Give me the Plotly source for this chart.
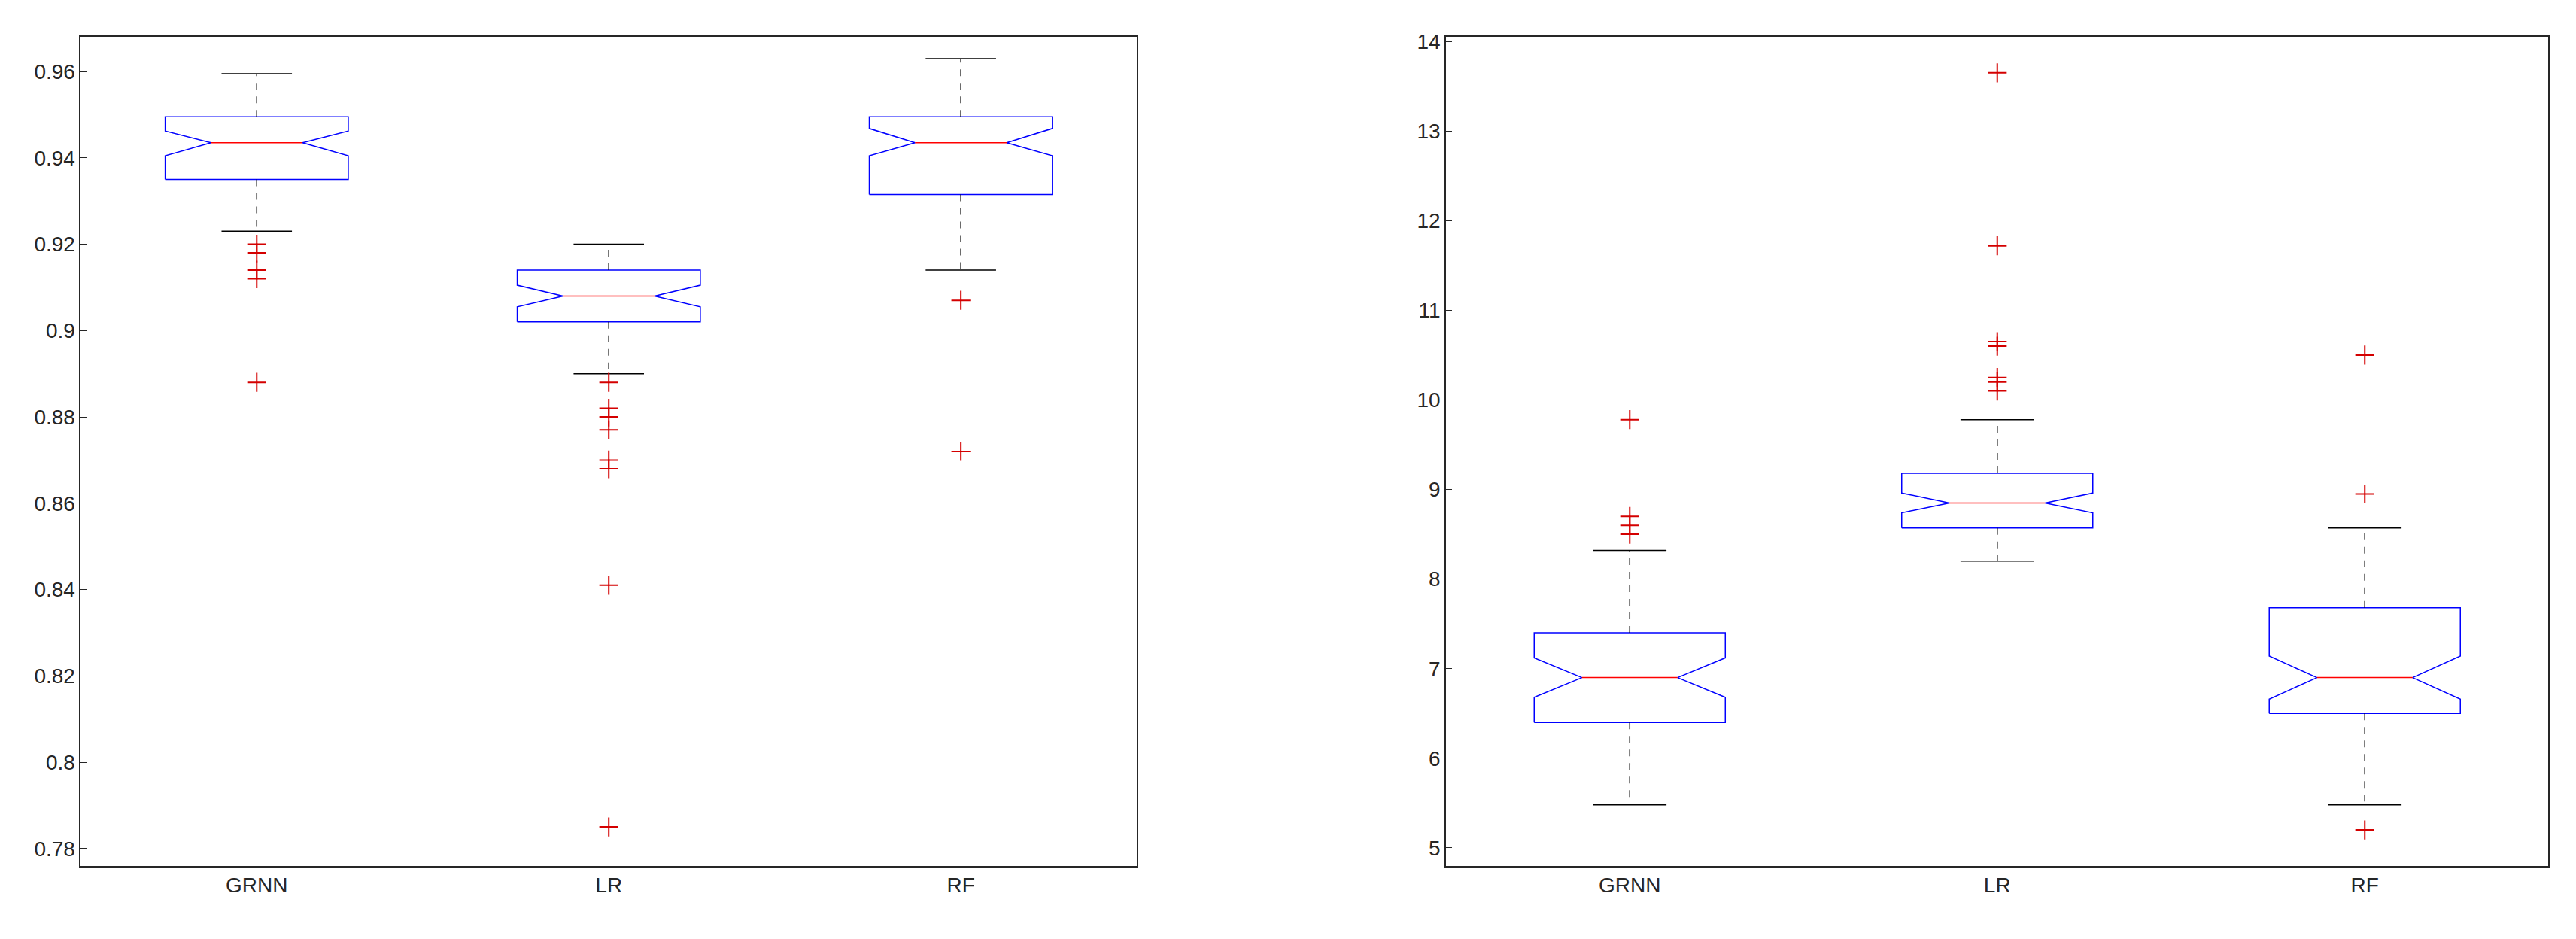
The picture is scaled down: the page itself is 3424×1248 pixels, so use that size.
import plotly.graph_objects as go

cats = ["GRNN", "LR", "RF"]
# left panel
L_q1 = [0.935, 0.902, 0.9315]
L_med = [0.9435, 0.908, 0.9435]
L_q3 = [0.9495, 0.914, 0.9495]
L_lo = [0.923, 0.890, 0.914]
L_hi = [0.9595, 0.920, 0.963]
L_nlo = [0.9405, 0.9055, 0.9405]
L_nhi = [0.9462, 0.9105, 0.9468]
L_out = [[0.920, 0.918, 0.914, 0.912, 0.888],
         [0.888, 0.882, 0.880, 0.877, 0.870, 0.868, 0.841, 0.785],
         [0.907, 0.872]]
# right panel
R_q1 = [6.4, 8.57, 6.5]
R_med = [6.9, 8.85, 6.9]
R_q3 = [7.4, 9.18, 7.68]
R_lo = [5.48, 8.2, 5.48]
R_hi = [8.32, 9.78, 8.57]
R_nlo = [6.68, 8.74, 6.66]
R_nhi = [7.12, 8.96, 7.14]
R_out = [[8.5, 8.6, 8.7, 9.78],
         [10.1, 10.2, 10.25, 10.6, 10.65, 11.72, 13.65],
         [8.95, 10.5, 5.2]]

fig = go.Figure()
W, N, C = 0.26, 0.13, 0.1

def panel(xa, ya, q1, med, q3, lo, hi, nlo, nhi, outs):
    for i in range(3):
        x = i + 1
        bx = [x-W, x+W, x+W, x+N, x+W, x+W, x-W, x-W, x-N, x-W, x-W]
        by = [q1[i], q1[i], nlo[i], med[i], nhi[i], q3[i], q3[i], nhi[i], med[i], nlo[i], q1[i]]
        fig.add_trace(go.Scatter(x=bx, y=by, mode="lines", line=dict(color="#0000ff", width=1.5),
                                 xaxis=xa, yaxis=ya, showlegend=False))
        fig.add_trace(go.Scatter(x=[x-N, x+N], y=[med[i], med[i]], mode="lines",
                                 line=dict(color="#ff0000", width=1.5), xaxis=xa, yaxis=ya, showlegend=False))
        for a, b in ((q3[i], hi[i]), (q1[i], lo[i])):
            fig.add_trace(go.Scatter(x=[x, x], y=[a, b], mode="lines",
                                     line=dict(color="black", width=1.5, dash="dash"),
                                     xaxis=xa, yaxis=ya, showlegend=False))
            fig.add_trace(go.Scatter(x=[x-C, x+C], y=[b, b], mode="lines",
                                     line=dict(color="black", width=1.5), xaxis=xa, yaxis=ya, showlegend=False))
        fig.add_trace(go.Scatter(x=[x]*len(outs[i]), y=outs[i], mode="markers",
                                 marker=dict(symbol="cross-thin-open", size=18, color="#d40000",
                                             line=dict(color="#d40000", width=2)),
                                 xaxis=xa, yaxis=ya, showlegend=False))

panel("x", "y", L_q1, L_med, L_q3, L_lo, L_hi, L_nlo, L_nhi, L_out)
panel("x2", "y2", R_q1, R_med, R_q3, R_lo, R_hi, R_nlo, R_nhi, R_out)

ax = dict(showline=True, mirror=True, linecolor="#262626", linewidth=1.5, ticks="inside",
          ticklen=8, tickcolor="#262626", showgrid=False, zeroline=False,
          tickfont=dict(family="Liberation Sans, Arial", size=28, color="#262626"))
fig.update_layout(
    width=3424, height=1248, plot_bgcolor="white", paper_bgcolor="white",
    margin=dict(l=0, r=0, t=0, b=0),
    xaxis=dict(ax, domain=[0.029, 0.439], range=[0.5, 3.5], tickvals=[1, 2, 3], ticktext=cats),
    yaxis=dict(ax, domain=[0.085, 0.974], range=[0.776, 0.968], dtick=0.02, tickformat="~g"),
    xaxis2=dict(ax, domain=[0.559, 0.987], range=[0.5, 3.5], tickvals=[1, 2, 3], ticktext=cats, anchor="y2"),
    yaxis2=dict(ax, domain=[0.085, 0.974], range=[4.8, 14.05], dtick=1, anchor="x2"),
)
fig.write_html("out.html")
